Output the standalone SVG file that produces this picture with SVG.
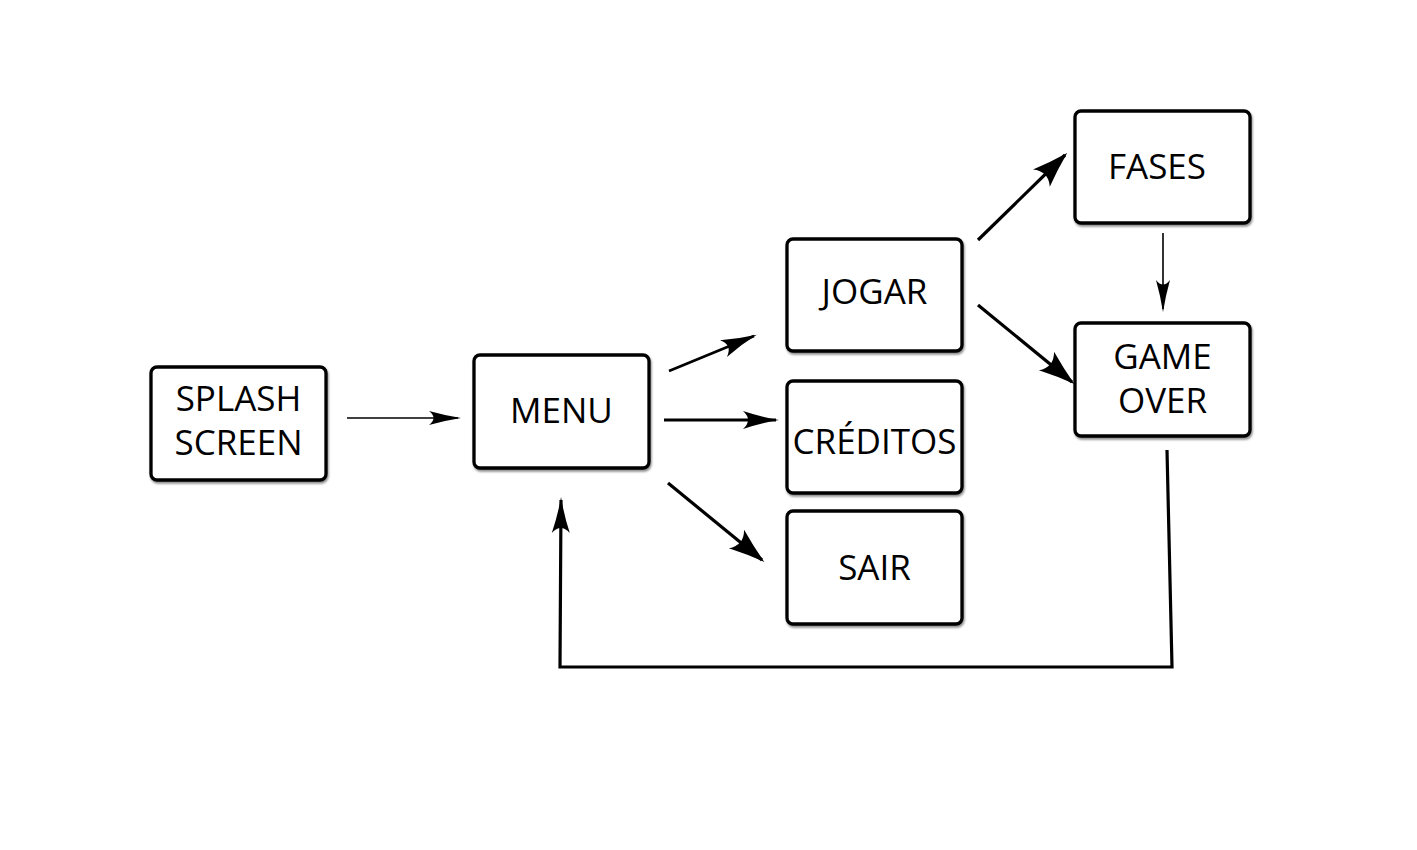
<svg xmlns="http://www.w3.org/2000/svg" width="1417" height="850" viewBox="0 0 1417 850">
<style>
.box{fill:#fff;stroke:#000;stroke-width:3.3;filter:url(#sh)}
.lbl{font-family:"Open Sans","Noto Sans","DejaVu Sans",sans-serif;font-size:35px;fill:#000;text-anchor:middle}
.c{fill:none;stroke:#000;stroke-linejoin:miter}
</style>
<defs>
<filter id="sh" x="-10%" y="-10%" width="120%" height="125%">
<feDropShadow dx="1" dy="2" stdDeviation="1.2" flood-color="#000" flood-opacity="0.45"/>
</filter>
<marker id="aThin" markerUnits="userSpaceOnUse" markerWidth="32" markerHeight="14" viewBox="0 0 32 14" refX="29" refY="7" orient="auto" overflow="visible">
<path d="M32 7 Q16 4.5 0 0 Q9 7 0 14 Q16 9.5 32 7 Z" fill="#000"/>
</marker>
<marker id="aMid" markerUnits="userSpaceOnUse" markerWidth="36" markerHeight="18" viewBox="0 0 36 18" refX="33" refY="9" orient="auto" overflow="visible">
<path d="M36 9 Q18 6 0 0 Q10 9 0 18 Q18 12 36 9 Z" fill="#000"/>
</marker>
<marker id="aBig" markerUnits="userSpaceOnUse" markerWidth="36" markerHeight="24" viewBox="0 0 36 24" refX="33" refY="12" orient="auto" overflow="visible">
<path d="M36 12 Q18 7 0 0 Q10 12 0 24 Q18 17 36 12 Z" fill="#000"/>
</marker>
</defs>
<rect width="1417" height="850" fill="#fff"/>
<g id="connectors">
<line class="c" x1="347" y1="418" x2="458" y2="418" stroke-width="1.6" marker-end="url(#aThin)"/>
<line class="c" x1="669" y1="371" x2="754" y2="336" stroke-width="2.6" marker-end="url(#aMid)"/>
<line class="c" x1="664" y1="420" x2="776" y2="420" stroke-width="3" marker-end="url(#aMid)"/>
<line class="c" x1="668" y1="483" x2="762" y2="560" stroke-width="3.2" marker-end="url(#aBig)"/>
<line class="c" x1="978" y1="240" x2="1065" y2="155" stroke-width="3.2" marker-end="url(#aBig)"/>
<line class="c" x1="978" y1="305" x2="1072" y2="382" stroke-width="3.2" marker-end="url(#aBig)"/>
<line class="c" x1="1163" y1="233" x2="1163" y2="309" stroke-width="1.6" marker-end="url(#aThin)"/>
<polyline class="c" points="1167,450 1172,667 560,667 561,500" stroke-width="3.2" marker-end="url(#aMid)"/>
</g>
<g id="splash">
<rect class="box" x="151" y="367" width="175" height="113" rx="6"/>
<text class="lbl" x="238.5" y="411">SPLASH</text>
<text class="lbl" x="238.5" y="455">SCREEN</text>
</g>
<g id="menu">
<rect class="box" x="474" y="355" width="175" height="113" rx="6"/>
<text class="lbl" x="561.5" y="423">MENU</text>
</g>
<g id="jogar">
<rect class="box" x="787" y="239" width="175" height="112" rx="6"/>
<text class="lbl" x="874.5" y="304">JOGAR</text>
</g>
<g id="creditos">
<rect class="box" x="787" y="381" width="175" height="112" rx="6"/>
<text class="lbl" x="874.5" y="454">CRÉDITOS</text>
</g>
<g id="sair">
<rect class="box" x="787" y="511" width="175" height="113" rx="6"/>
<text class="lbl" x="874.5" y="580">SAIR</text>
</g>
<g id="fases">
<rect class="box" x="1075" y="111" width="175" height="112" rx="6"/>
<text class="lbl" x="1157" y="179">FASES</text>
</g>
<g id="gameover">
<rect class="box" x="1075" y="323" width="175" height="113" rx="6"/>
<text class="lbl" x="1162.5" y="369">GAME</text>
<text class="lbl" x="1162.5" y="413">OVER</text>
</g>
</svg>
